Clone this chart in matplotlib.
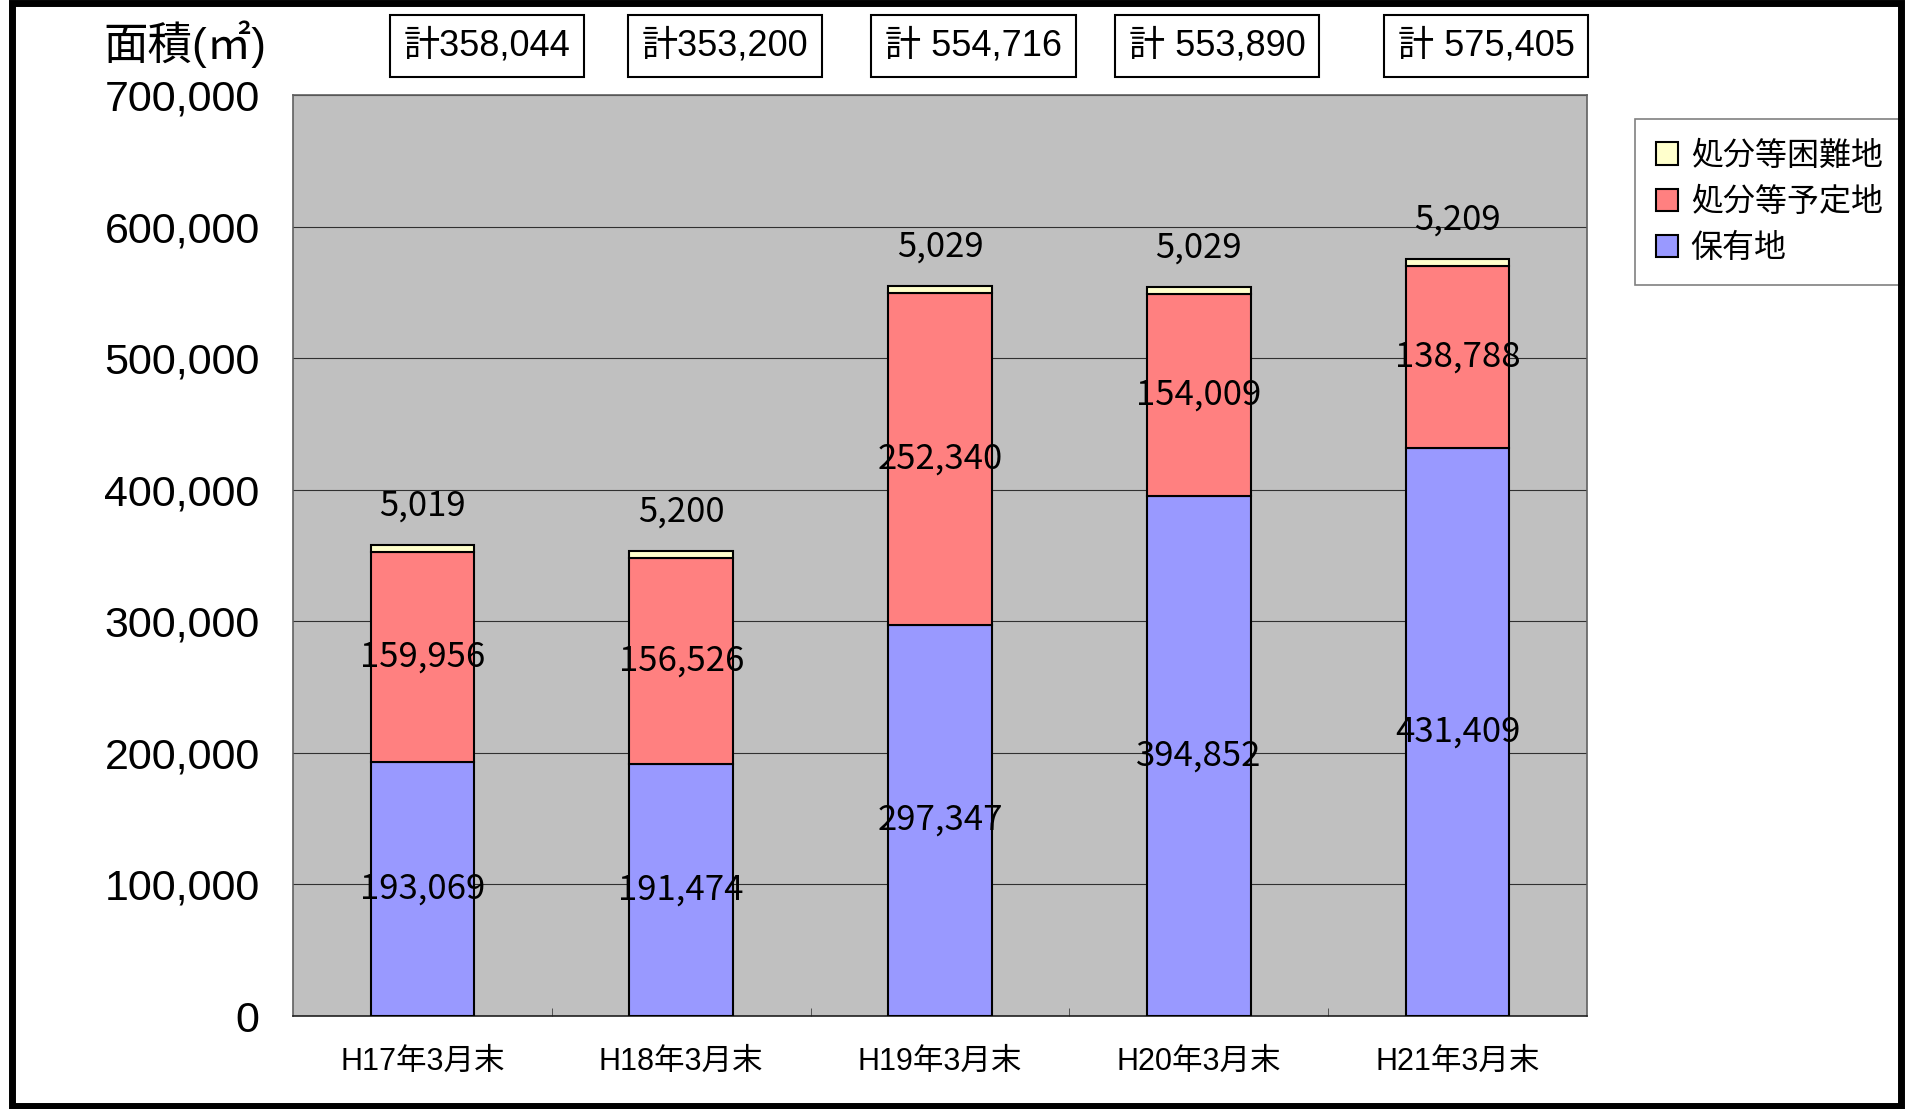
import matplotlib
matplotlib.use("Agg")
import matplotlib.pyplot as plt
from matplotlib.patches import Rectangle
from matplotlib import font_manager

# ---- data ----
categories = ["H17年3月末", "H18年3月末", "H19年3月末", "H20年3月末", "H21年3月末"]
hoyuchi = [193069, 191474, 297347, 394852, 431409]          # 保有地
yoteichi = [159956, 156526, 252340, 154009, 138788]         # 処分等予定地
konnanchi = [5019, 5200, 5029, 5029, 5209]                  # 処分等困難地
totals = ["計358,044", "計353,200", "計 554,716", "計 553,890", "計 575,405"]
series_names = ["保有地", "処分等予定地", "処分等困難地"]
y_ticks = [0, 100000, 200000, 300000, 400000, 500000, 600000, 700000]

# ---- fonts ----
avail = {f.name for f in font_manager.fontManager.ttflist}
narrow = "Liberation Sans Narrow" if "Liberation Sans Narrow" in avail else "Liberation Sans"
fam_narrow = [narrow, "Noto Sans CJK JP"]
fam_cjk = ["Noto Sans CJK JP", "DejaVu Sans"]
plt.rcParams["font.family"] = fam_narrow
tick_size = 35 if narrow == "Liberation Sans Narrow" else 31
box_size = 29 if narrow == "Liberation Sans Narrow" else 26

W, H = 1905, 1109
fig = plt.figure(figsize=(W / 100, H / 100), dpi=100)
fig.patch.set_facecolor("white")

ax = fig.add_axes([293 / W, 1 - 1016 / H, (1587 - 293) / W, (1016 - 95) / H])
ax.set_facecolor("#C0C0C0")

x = list(range(len(categories)))
bw = 0.40
colors = ["#9999FF", "#FF8080", "#FFFFCC"]
b1 = ax.bar(x, hoyuchi, bw, color=colors[0], edgecolor="black", linewidth=1.5, zorder=3, label=series_names[0])
b2 = ax.bar(x, yoteichi, bw, bottom=hoyuchi, color=colors[1], edgecolor="black", linewidth=1.5, zorder=3, label=series_names[1])
bottoms3 = [a + b for a, b in zip(hoyuchi, yoteichi)]
b3 = ax.bar(x, konnanchi, bw, bottom=bottoms3, color=colors[2], edgecolor="black", linewidth=1.5, zorder=3, label=series_names[2])

ax.set_xlim(-0.5, len(categories) - 0.5)
ax.set_ylim(0, 700000)
ax.set_yticks(y_ticks)
ax.set_yticklabels([f"{v:,}" for v in y_ticks], fontsize=tick_size, family=fam_narrow)
ax.set_xticks(x)
ax.set_xticklabels(categories, fontsize=22, family=fam_narrow)
ax.set_xticks([i + 0.5 for i in x[:-1]], minor=True)
ax.tick_params(axis="x", which="major", length=0, pad=22)
ax.tick_params(axis="x", which="minor", direction="in", length=6, color="#404040")
ax.tick_params(axis="y", length=0, pad=24)
ax.grid(axis="y", color="#303030", linewidth=0.8, zorder=1)
for s in ax.spines.values():
    s.set_color("#606060")
    s.set_linewidth(1.2)
ax.spines["bottom"].set_color("#202020")

# data labels
lab_kw = dict(ha="center", va="center", fontsize=25, family=fam_cjk, color="black", zorder=5)
for i in x:
    ax.text(i, hoyuchi[i] / 2, f"{hoyuchi[i]:,}", **lab_kw)
    ax.text(i, hoyuchi[i] + yoteichi[i] / 2, f"{yoteichi[i]:,}", **lab_kw)
    top = hoyuchi[i] + yoteichi[i] + konnanchi[i]
    ax.annotate(f"{konnanchi[i]:,}", xy=(i, top), xytext=(0, 28), textcoords="offset points", **lab_kw)

# total boxes
box_offsets = [0.25, 0.17, 0.13, 0.07, 0.11]
for i in x:
    ax.text(i + box_offsets[i], 1 + 49 / 921, totals[i], transform=ax.get_xaxis_transform(),
            ha="center", va="center", fontsize=box_size, family=fam_narrow, clip_on=False,
            bbox=dict(boxstyle="square,pad=0.38", facecolor="white", edgecolor="black", linewidth=1.5))

# y-axis title
fig.text(103 / W, 1 - 44 / H, "面積(㎡)", ha="left", va="center", fontsize=32, family=fam_narrow)

# legend
handles = [b3, b2, b1]
leg = ax.legend(handles, [series_names[2], series_names[1], series_names[0]],
                loc="upper left", bbox_to_anchor=(1.037, 0.974), borderaxespad=0,
                prop=font_manager.FontProperties(family=fam_cjk, size=23),
                frameon=True, fancybox=False, edgecolor="#606060",
                handlelength=0.7, handleheight=0.7, handletextpad=0.4,
                labelspacing=0.45, borderpad=0.65)
leg.get_frame().set_linewidth(1.2)

# figure border
fig.patches.append(Rectangle((12 / W, 3 / H), (1901 - 12) / W, (1106 - 3) / H,
                             transform=fig.transFigure, fill=False, edgecolor="black", linewidth=5))

fig.savefig("out.png", dpi=100)
